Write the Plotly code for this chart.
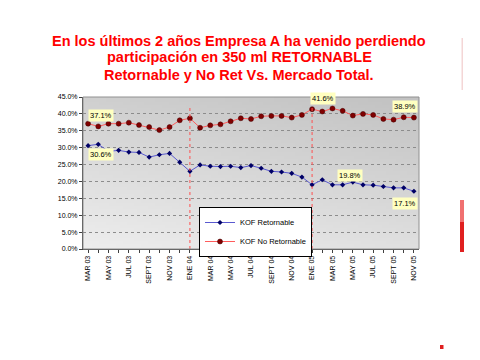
import zlib, struct, base64
import plotly.graph_objects as go

# ---------------- data ----------------
months = ["MAR 03", "ABR 03", "MAY 03", "JUN 03", "JUL 03", "AGO 03", "SEPT 03", "OCT 03", "NOV 03", "DIC 03",
          "ENE 04", "FEB 04", "MAR 04", "ABR 04", "MAY 04", "JUN 04", "JUL 04", "AGO 04", "SEPT 04", "OCT 04",
          "NOV 04", "DIC 04", "ENE 05", "FEB 05", "MAR 05", "ABR 05", "MAY 05", "JUN 05", "JUL 05", "AGO 05",
          "SEPT 05", "OCT 05", "NOV 05"]
shown_labels = ["MAR 03", "MAY 03", "JUL 03", "SEPT 03", "NOV 03", "ENE 04", "MAR 04", "MAY 04", "JUL 04",
                "SEPT 04", "NOV 04", "ENE 05", "MAR 05", "MAY 05", "JUL 05", "SEPT 05", "NOV 05"]

kof_retornable = [30.6, 31.0, 28.9, 29.2, 28.7, 28.6, 27.2, 27.9, 28.3, 25.7,
                  23.0, 24.9, 24.5, 24.4, 24.5, 24.1, 24.7, 23.9, 23.0, 22.8,
                  22.4, 21.3, 19.0, 20.5, 19.0, 19.0, 19.8, 19.0, 18.9, 18.5,
                  18.1, 18.1, 17.1]
kof_no_retornable = [37.1, 36.3, 37.1, 37.1, 37.4, 36.7, 36.1, 35.2, 36.1, 38.1,
                     38.7, 35.9, 36.6, 36.9, 37.8, 38.7, 38.5, 39.3, 39.4, 39.4,
                     38.9, 39.7, 41.4, 40.7, 41.6, 40.9, 39.5, 40.0, 39.7, 38.5,
                     38.3, 39.0, 38.9]

callouts = ["37.1%", "30.6%", "41.6%", "38.9%", "19.8%", "17.1%"]
title_lines = ["En los últimos 2 años Empresa A ha venido perdiendo",
               "participación en 350 ml RETORNABLE",
               "Retornable y No Ret Vs. Mercado Total."]

# ---------------- geometry helpers ----------------
OFF = 8                      # page body margin added by the browser
W, H = 480 - OFF, 360 - OFF
L, R, T, B = 83, 419, 97, 249   # plot area in window pixels


def px(xp):
    return (xp - L) / (R - L)


def py(yp):
    return (B - yp) / (B - T)


def make_png(w, h, fn):
    raw = bytearray()
    for j in range(h):
        raw.append(0)
        v = 1 - j / (h - 1)
        for i in range(w):
            raw.append(max(0, min(255, int(fn(i / (w - 1), v)))))

    def chunk(t, d):
        c = struct.pack('>I', len(d)) + t + d
        return c + struct.pack('>I', zlib.crc32(t + d) & 0xffffffff)

    png = (b'\x89PNG\r\n\x1a\n'
           + chunk(b'IHDR', struct.pack('>IIBBBBB', w, h, 8, 0, 0, 0, 0))
           + chunk(b'IDAT', zlib.compress(bytes(raw)))
           + chunk(b'IEND', b''))
    return 'data:image/png;base64,' + base64.b64encode(png).decode()


bg_img = make_png(96, 48, lambda u, v: 238 - 30 * v - 14 * u)

fig = go.Figure()

fig.add_trace(go.Scatter(
    x=months, y=kof_retornable, name="KOF Retornable", mode="lines+markers",
    line=dict(color="#5a5ad0", width=1),
    marker=dict(symbol="diamond", size=4, color="#000066"),
))
fig.add_trace(go.Scatter(
    x=months, y=kof_no_retornable, name="KOF No Retornable", mode="lines+markers",
    line=dict(color="#ff5c5c", width=1),
    marker=dict(symbol="circle", size=5, color="#800000", line=dict(color="#400000", width=0.5)),
))

shapes = []
for m in ["ENE 04", "ENE 05"]:
    i = months.index(m)
    shapes.append(dict(type="line", xref="x", yref="y", x0=i, x1=i, y0=0, y1=42.5,
                       line=dict(color="#ff5050", width=1, dash="dot")))
# plot border
shapes.append(dict(type="rect", xref="paper", yref="paper", x0=0, x1=1, y0=0, y1=1,
                   line=dict(color="#909090", width=1)))
# slide decorations on the right
shapes.append(dict(type="rect", xref="paper", yref="paper", x0=px(460), x1=px(464), y0=py(252), y1=py(222),
                   line=dict(width=0), fillcolor="#e02020"))
shapes.append(dict(type="rect", xref="paper", yref="paper", x0=px(460), x1=px(464), y0=py(222), y1=py(200),
                   line=dict(width=0), fillcolor="#f07070"))
shapes.append(dict(type="rect", xref="paper", yref="paper", x0=px(461.5), x1=px(463), y0=py(90), y1=py(38),
                   line=dict(width=0), fillcolor="#f4d6d6"))
shapes.append(dict(type="rect", xref="paper", yref="paper", x0=px(440), x1=px(443.5), y0=py(349), y1=py(345),
                   line=dict(width=0), fillcolor="#e02020"))

annotations = []
title_y = [40.5, 57.5, 74.5]
for t, yy in zip(title_lines, title_y):
    annotations.append(dict(text="<b>%s</b>" % t, xref="paper", yref="paper", x=px(239), y=py(yy),
                            xanchor="center", yanchor="middle", showarrow=False,
                            font=dict(family="Liberation Sans, Arial", size=14.5, color="#ff0000")))

callout_pos = [(0, 39.5, "left"), (0, 28.0, "left"), (23.1, 44.6, "center"),
               (32.4, 42.2, "right"), (25.7, 21.9, "center"), (32.4, 13.6, "right")]
for txt, (xx, yy, anc) in zip(callouts, callout_pos):
    annotations.append(dict(text=txt, xref="x", yref="y", x=xx, y=yy, xanchor=anc, yanchor="middle",
                            showarrow=False, bgcolor="#ffffc0", borderpad=1,
                            font=dict(family="Liberation Sans, Arial", size=7.5, color="#000000")))

fig.update_layout(
    width=W, height=H,
    margin=dict(l=L - OFF, r=W - (R - OFF), t=T - OFF, b=H - (B - OFF), autoexpand=False),
    paper_bgcolor="white", plot_bgcolor="#dcdcdc",
    font=dict(family="Liberation Sans, Arial", size=7, color="#000000"),
    showlegend=True,
    legend=dict(x=px(199), y=py(207), xanchor="left", yanchor="top",
                bgcolor="white", bordercolor="#000000", borderwidth=1,
                font=dict(size=7.5, color="#000000"), itemwidth=30,
                tracegroupgap=0),
    images=[dict(source=bg_img, xref="paper", yref="paper", x=0, y=1, sizex=1, sizey=1,
                 sizing="stretch", layer="below", xanchor="left", yanchor="top")],
    shapes=shapes,
    annotations=annotations,
)

fig.update_xaxes(
    type="category", categoryorder="array", categoryarray=months,
    range=[-0.5, len(months) - 0.5],
    tickmode="array", tickvals=months,
    ticktext=[m if m in shown_labels else "" for m in months],
    tickangle=-90, tickfont=dict(size=7, color="#000000"),
    ticks="outside", ticklen=3, tickcolor="#404040",
    showline=True, linecolor="#404040", linewidth=1,
    showgrid=False, zeroline=False,
)
fig.update_yaxes(
    range=[0, 45], dtick=5, tickformat=".1f", ticksuffix="%",
    tickfont=dict(size=7, color="#000000"),
    ticks="outside", ticklen=3, tickcolor="#404040",
    showline=True, linecolor="#404040", linewidth=1,
    showgrid=True, gridcolor="#8c8c8c", gridwidth=1, griddash="3px,3px",
    zeroline=False,
)

fig.write_html("out.html")
